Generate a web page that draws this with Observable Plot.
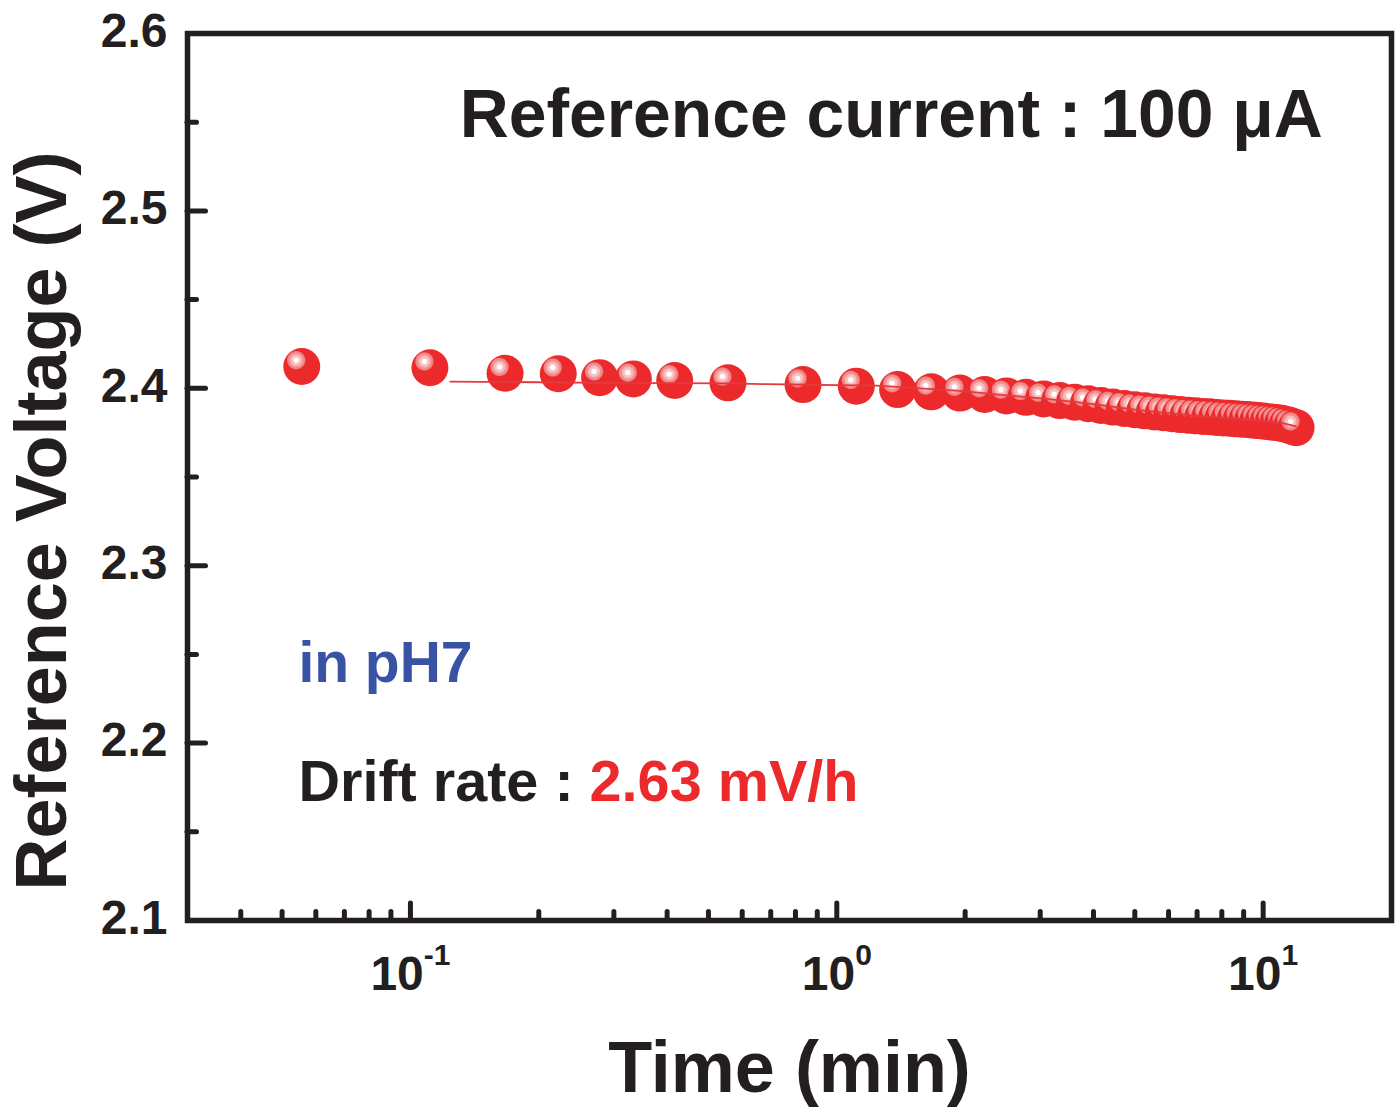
<!DOCTYPE html>
<html>
<head>
<meta charset="utf-8">
<script src="https://cdn.jsdelivr.net/npm/d3@7"></script>
<script src="https://cdn.jsdelivr.net/npm/@observablehq/plot@0.6"></script>
<style>
  body { margin: 0; background: #fff; }
</style>
</head>
<body>
<div id="chart"></div>
<script>
// ---- data ----
const times = [0.0556, 0.1111, 0.1667, 0.2222, 0.2778, 0.3333, 0.4167, 0.5556, 0.8333,
  1.1111, 1.3889, 1.6667, 1.9444, 2.2222, 2.5, 2.7778, 3.0556, 3.3333, 3.6111, 3.8889,
  4.1667, 4.4444, 4.7222, 5.0, 5.2778, 5.5556, 5.8333, 6.1111, 6.3889, 6.6667, 6.9444,
  7.2222, 7.5, 7.7778, 8.0556, 8.3333, 8.6111, 8.8889, 9.1667, 9.4444, 9.7222, 10.0,
  10.2778, 10.5556, 10.8333, 11.1111, 11.3889, 11.6667, 11.9444];
const volts = [2.4123, 2.4116, 2.4085, 2.4082, 2.4060, 2.4053, 2.4044, 2.4031, 2.4021,
  2.4012, 2.3993, 2.3980, 2.3973, 2.3965, 2.3957, 2.3949, 2.3940, 2.3931, 2.3922, 2.3913,
  2.3903, 2.3894, 2.3886, 2.3879, 2.3873, 2.3867, 2.3862, 2.3857, 2.3852, 2.3848, 2.3845,
  2.3841, 2.3839, 2.3836, 2.3833, 2.3831, 2.3828, 2.3826, 2.3824, 2.3821, 2.3818, 2.3815,
  2.3812, 2.3809, 2.3806, 2.3801, 2.3795, 2.3787, 2.3778];
const lineTimes = [0.124, 0.2, 0.278, 0.4, 0.55, 0.69, 0.86, 1.0, 1.24, 1.5, 1.94, 2.5,
  3.06, 3.61, 4.17, 5.0, 6.11, 7.5, 8.89, 10.0, 11.11, 11.94];
const lineVolts = [2.4038, 2.4034, 2.4031, 2.4029, 2.4028, 2.4023, 2.4020, 2.4018, 2.4015,
  2.4002, 2.3985, 2.3960, 2.3942, 2.3924, 2.3905, 2.3880, 2.3857, 2.3839, 2.3826, 2.3815,
  2.3803, 2.3785];
const yTickValues = [2.1, 2.2, 2.3, 2.4, 2.5, 2.6];
const yMajorInner = [2.2, 2.3, 2.4, 2.5];
const yMinorValues = [2.15, 2.25, 2.35, 2.45, 2.55];
const xTickValues = [0.1, 1, 10];
const xMinorValues = [0.04, 0.05, 0.06, 0.07, 0.08, 0.09, 0.2, 0.3, 0.4, 0.5, 0.6, 0.7, 0.8, 0.9,
  2, 3, 4, 5, 6, 7, 8, 9];
const titleText = "Reference current : 100 \u03bcA";
const mediumText = "in pH7";
const driftLabel = "Drift rate : ";
const driftValue = "2.63 mV/h";
const xTitle = "Time (min)";
const yTitle = "Reference Voltage (V)";

const points = times.map((t, i) => ({t, v: volts[i]}));
const fitLine = lineTimes.map((t, i) => ({t, v: lineVolts[i]}));

// ---- styles ----
const INK = "#231f20", RED = "#ec2a2c", BLUE = "#3953a4", LINE = "#e6393d";
const FRAME_W = 1204, FRAME_H = 887;

const defs = () => {
  const d = d3.create("svg:defs");
  const g = d.append("radialGradient").attr("id", "sphere")
    .attr("cx", 0.35).attr("cy", 0.33).attr("r", 0.5).attr("fx", 0.35).attr("fy", 0.33);
  [[0, "#ffffff"], [0.12, "#ffffff"], [0.16, "#f9cccc"], [0.3, "#f7b4b5"], [0.34, "#f39697"],
   [0.46, "#f08384"], [0.52, RED], [1, RED]].forEach(([o, c]) =>
    g.append("stop").attr("offset", o).attr("stop-color", c));
  return d.node();
};

const annotations = [
  {t: 0.1305, v: 2.5414, label: titleText, color: INK, size: 67.8},
  {t: 0.0546, v: 2.2342, label: mediumText, color: BLUE, size: 57},
  {t: 0.0546, v: 2.1676, label: driftLabel + "|" + driftValue, color: INK, size: 57.6}
];

const chart = Plot.plot({
  width: 1395, height: 1109,
  marginLeft: 187, marginRight: 4, marginTop: 33, marginBottom: 189,
  style: {fontFamily: "'Liberation Sans', Arial, sans-serif", fontWeight: "bold", color: INK, background: "#fff", overflow: "visible"},
  x: {type: "log", domain: [0.03, 20]},
  y: {domain: [2.1, 2.6]},
  marks: [
    defs,
    Plot.axisY(yTickValues, {tickSize: 0, tickPadding: 20, tickFormat: d3.format(".1f"), fontSize: 48, fontWeight: "bold", label: null, dy: -2}),
    Plot.axisX(xTickValues, {tickSize: 0, tickPadding: 35, tickFormat: d => `10^${Math.round(Math.log10(d))}`, fontSize: 48, fontWeight: "bold", label: null}),
    Plot.ruleX(xTickValues, {insetTop: FRAME_H - 17, stroke: INK, strokeWidth: 5, strokeLinecap: "round"}),
    Plot.ruleX(xMinorValues, {insetTop: FRAME_H - 8.5, stroke: INK, strokeWidth: 5, strokeLinecap: "round"}),
    Plot.ruleY(yMajorInner, {insetRight: FRAME_W - 18.5, stroke: INK, strokeWidth: 5, strokeLinecap: "round"}),
    Plot.ruleY(yMinorValues, {insetRight: FRAME_W - 9.5, stroke: INK, strokeWidth: 5, strokeLinecap: "round"}),
    Plot.dot(points, {x: "t", y: "v", r: 18.5, fill: "url(#sphere)"}),
    Plot.line(fitLine, {x: "t", y: "v", stroke: LINE, strokeWidth: 1.8}),
    Plot.text(annotations, {x: "t", y: "v", text: "label", fill: "color", fontSize: "size", textAnchor: "start", lineAnchor: "bottom", fontWeight: "bold"}),
    Plot.text([yTitle], {text: d => d, frameAnchor: "left", rotate: -90, dx: -122, dy: 44, fontSize: 72, lineAnchor: "bottom", textAnchor: "middle", fontWeight: "bold"}),
    Plot.text([xTitle], {text: d => d, frameAnchor: "bottom", dy: 171, fontSize: 72, lineAnchor: "bottom", textAnchor: "middle", fontWeight: "bold"}),
    Plot.frame({stroke: INK, strokeWidth: 5.5})
  ]
});

// superscript exponents on the log-axis labels
d3.select(chart).selectAll('g[aria-label="x-axis tick label"] text').each(function () {
  const [base, exp] = this.textContent.split("^");
  const s = d3.select(this);
  s.text(null);
  s.append("tspan").text(base);
  s.append("tspan").attr("dy", -25).attr("font-size", 30).text(exp);
});
// two-colour drift annotation
d3.select(chart).selectAll("text").each(function () {
  const c = this.textContent;
  if (c.includes("|") && c.startsWith("Drift")) {
    const [a, b] = c.split("|");
    const s = d3.select(this);
    s.text(null);
    s.append("tspan").attr("fill", INK).text(a);
    s.append("tspan").attr("fill", RED).text(b);
  }
});

document.getElementById("chart").appendChild(chart);
</script>
</body>
</html>
